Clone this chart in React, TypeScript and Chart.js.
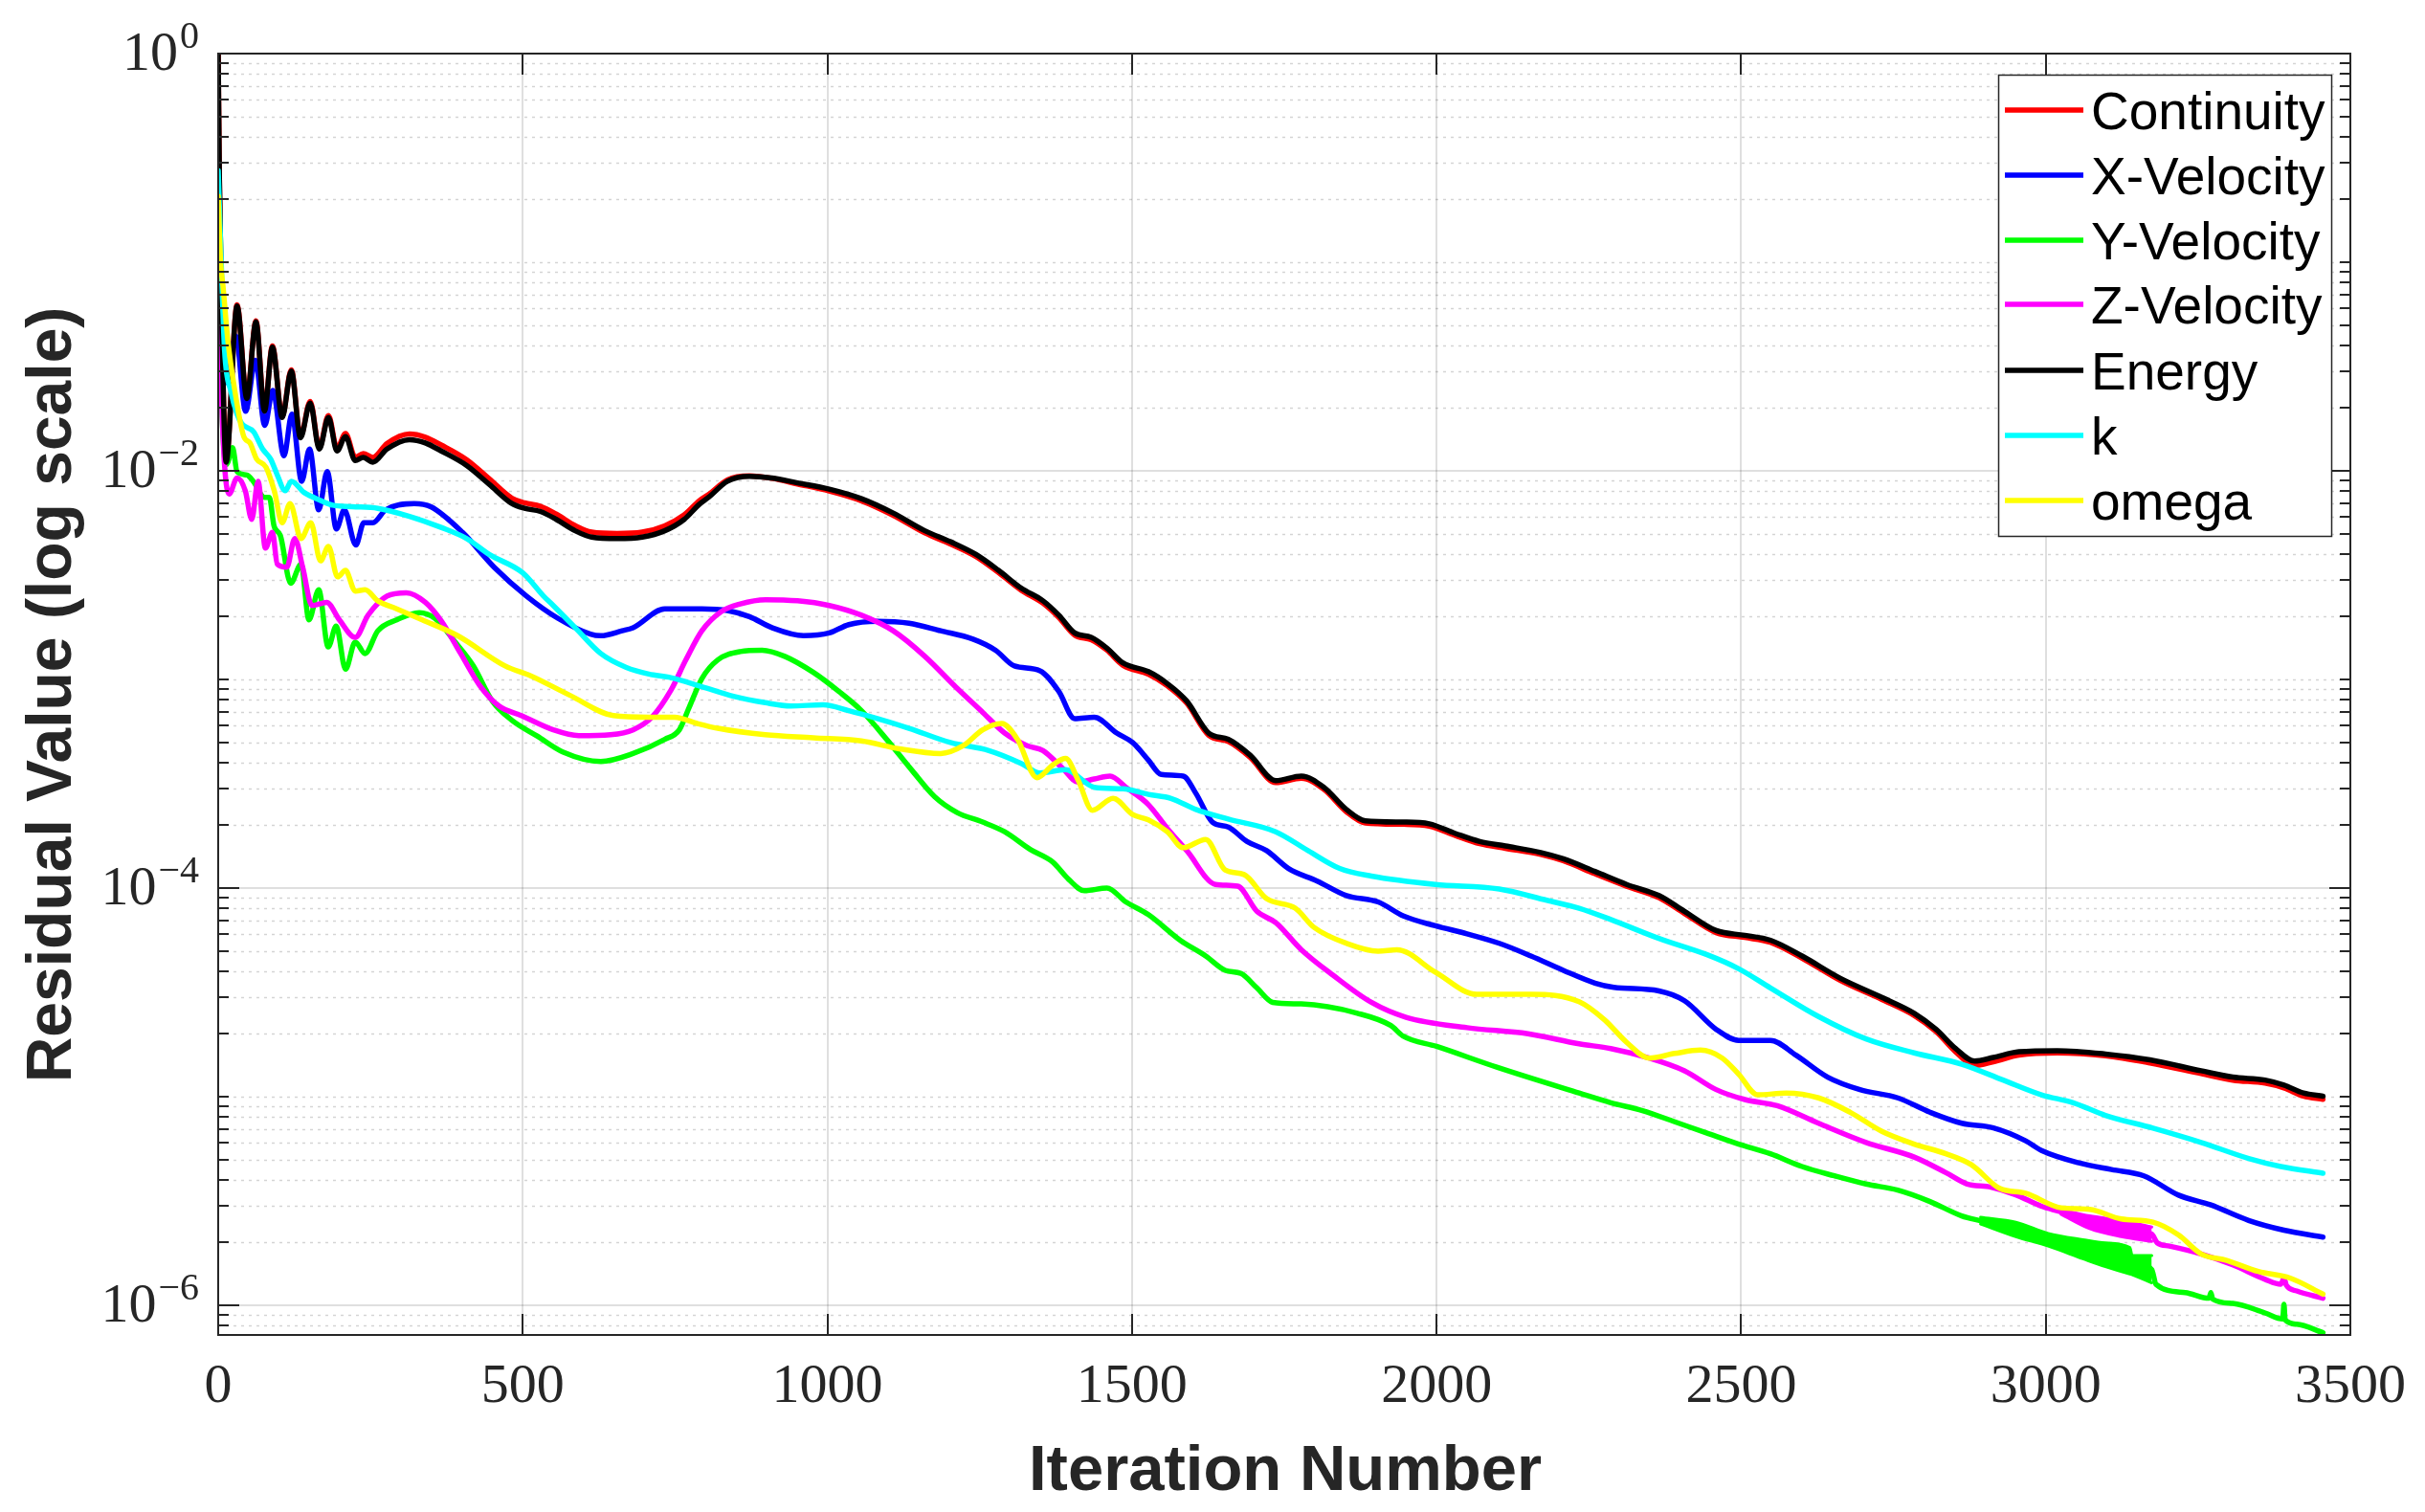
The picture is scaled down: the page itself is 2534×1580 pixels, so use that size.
import React, { useEffect, useRef } from 'react';
import { Chart, registerables } from 'chart.js';

Chart.register(...registerables);

type Pt = [number, number];

const W = 2534;
const H = 1580;

const xTicks = [0, 500, 1000, 1500, 2000, 2500, 3000, 3500];
const yMajorExp = [0, -2, -4, -6];
const yMin = 7.2e-7;
const yMax = 1;

const seriesNames = ['Continuity', 'X-Velocity', 'Y-Velocity', 'Z-Velocity', 'Energy', 'k', 'omega'];
const seriesColors = ['#FF0000', '#0000FF', '#00FF00', '#FF00FF', '#000000', '#00FFFF', '#FFFF00'];

const continuity: Pt[] = [
  [0, 1], [2, 0.25], [6, 0.05], [13, 0.0112], [31, 0.0625], [47, 0.0224], [62, 0.0524], [76, 0.0195], [89, 0.0397],
  [105, 0.0182], [120, 0.0305], [135, 0.0146], [151, 0.0215], [166, 0.0129], [181, 0.0184], [195, 0.0128], [209, 0.0151],
  [225, 0.0116], [238, 0.0121], [254, 0.0116], [277, 0.0135], [314, 0.0150], [340, 0.0145], [366, 0.0133], [408, 0.0113],
  [445, 0.00915], [482, 0.0074], [503, 0.00702], [529, 0.00676], [555, 0.0062], [586, 0.00546], [613, 0.00508],
  [655, 0.005], [696, 0.00508], [733, 0.00545], [765, 0.00615], [790, 0.0072], [805, 0.0077], [836, 0.00905],
  [872, 0.00945], [909, 0.0092], [951, 0.00865], [1003, 0.008], [1056, 0.00718], [1108, 0.00612], [1160, 0.00504],
  [1202, 0.00446], [1244, 0.00388], [1281, 0.00325], [1318, 0.00268], [1354, 0.00232], [1380, 0.00198], [1406, 0.00163],
  [1433, 0.00155], [1459, 0.00138], [1485, 0.00117], [1527, 0.00106], [1558, 0.000933], [1590, 0.000769],
  [1626, 0.00054], [1658, 0.000504], [1694, 0.000423], [1736, 0.00032], [1778, 0.000336], [1815, 0.000297],
  [1852, 0.000232], [1883, 0.000205], [1946, 0.000202], [1988, 0.000198], [2030, 0.000179], [2071, 0.000163],
  [2113, 0.000155], [2171, 0.000145], [2208, 0.000135], [2260, 0.000117], [2312, 0.000102], [2365, 8.99e-5],
  [2407, 7.55e-5], [2459, 6.11e-5], [2506, 5.79e-5], [2548, 5.49e-5], [2600, 4.61e-5], [2663, 3.6e-5], [2731, 2.92e-5],
  [2784, 2.45e-5], [2820, 2.05e-5], [2852, 1.64e-5], [2883, 1.41e-5], [2914, 1.47e-5], [2956, 1.58e-5], [3019, 1.62e-5],
  [3098, 1.57e-5], [3171, 1.45e-5], [3255, 1.29e-5], [3307, 1.2e-5], [3360, 1.16e-5], [3391, 1.1e-5], [3423, 1.005e-5],
  [3455, 9.7e-6],
];

const xVelocity: Pt[] = [
  [0, 0.2], [6, 0.06], [14, 0.0265], [29, 0.0442], [45, 0.0193], [61, 0.0339], [76.5, 0.0165], [89.5, 0.0243],
  [108, 0.0118], [121, 0.0187], [137, 0.00891], [150, 0.0127], [165, 0.0065], [179, 0.00991], [194, 0.00526],
  [207, 0.0065], [226, 0.00441], [239, 0.00564], [254, 0.00564], [275, 0.0065], [322, 0.00697], [349, 0.00673],
  [401, 0.00507], [453, 0.00345], [506, 0.00251], [558, 0.00196], [611, 0.00165], [628, 0.00162], [663, 0.00171],
  [681, 0.00177], [733, 0.00218], [794, 0.00218], [836, 0.00214], [872, 0.002], [909, 0.00177], [961, 0.00162],
  [1003, 0.00167], [1035, 0.00183], [1082, 0.0019], [1134, 0.00186], [1186, 0.00171], [1239, 0.00156], [1276, 0.00138],
  [1307, 0.00116], [1349, 0.0011], [1380, 0.000875], [1406, 0.000649], [1438, 0.000659], [1475, 0.000553],
  [1501, 0.000498], [1527, 0.00041], [1548, 0.00035], [1584, 0.000344], [1605, 0.000284], [1632, 0.000207],
  [1658, 0.000196], [1689, 0.000167], [1721, 0.000151], [1757, 0.000124], [1804, 0.000108], [1852, 9.2e-5],
  [1904, 8.57e-5], [1946, 7.33e-5], [1998, 6.59e-5], [2050, 6.03e-5], [2103, 5.43e-5], [2155, 4.72e-5], [2208, 4.03e-5],
  [2260, 3.5e-5], [2291, 3.34e-5], [2365, 3.21e-5], [2407, 2.88e-5], [2459, 2.1e-5], [2496, 1.86e-5], [2548, 1.86e-5],
  [2590, 1.58e-5], [2642, 1.24e-5], [2695, 1.08e-5], [2757, 9.86e-6], [2810, 8.41e-6], [2862, 7.45e-6], [2914, 7.08e-6],
  [2967, 6.14e-6], [2993, 5.52e-6], [3056, 4.8e-6], [3108, 4.47e-6], [3161, 4.17e-6], [3218, 3.37e-6], [3270, 3.03e-6],
  [3333, 2.55e-6], [3391, 2.29e-6], [3455, 2.12e-6],
];

const yVelocity: Pt[] = [
  [0, 0.1], [6, 0.02], [13, 0.0107], [16, 0.011], [23.6, 0.0129], [31, 0.00991], [47, 0.00955], [57.6, 0.00891],
  [76, 0.00746], [84, 0.00746], [91.6, 0.00545], [102, 0.0049], [119, 0.00289], [136, 0.00357], [149, 0.00193],
  [165, 0.00269], [180.6, 0.00143], [193.7, 0.0018], [209, 0.00112], [225, 0.00151], [241, 0.00133], [262, 0.00171],
  [293, 0.00193], [330, 0.00209], [356, 0.00196], [387.5, 0.00153], [419, 0.00116], [450, 0.000787], [482, 0.000637],
  [523.6, 0.000535], [565.5, 0.000449], [628, 0.000404], [681, 0.000441], [733, 0.000516], [757, 0.000573],
  [773, 0.000733], [794, 0.00101], [820, 0.00124], [857, 0.00136], [893, 0.00138], [930, 0.00129], [977, 0.00108],
  [1019, 0.000875], [1056, 0.000708], [1098, 0.000513], [1140, 0.000363], [1176, 0.000274], [1213, 0.00023],
  [1255, 0.000207], [1291, 0.000186], [1333, 0.000153], [1370, 0.000133], [1396, 0.00011], [1422, 9.7e-5],
  [1459, 0.0001], [1490, 8.57e-5], [1527, 7.45e-5], [1579, 5.62e-5], [1621, 4.72e-5], [1653, 4.03e-5], [1679, 3.89e-5],
  [1705, 3.32e-5], [1731, 2.83e-5], [1778, 2.78e-5], [1870, 2.51e-5], [1925, 2.19e-5], [1945, 1.95e-5], [2000, 1.74e-5],
  [2100, 1.38e-5], [2234, 1.04e-5], [2286, 9.35e-6], [2338, 8.57e-6], [2391, 7.57e-6], [2443, 6.7e-6], [2496, 5.92e-6],
  [2548, 5.32e-6], [2600, 4.62e-6], [2653, 4.17e-6], [2705, 3.81e-6], [2757, 3.56e-6], [2810, 3.14e-6], [2862, 2.68e-6],
  [2893, 2.54e-6], [2951, 2.32e-6], [3004, 2.06e-6], [3061, 1.86e-6], [3098, 1.75e-6], [3140, 1.62e-6], [3174, 1.48e-6],
  [3181, 1.26e-6], [3229, 1.15e-6], [3268, 1.08e-6], [3271, 1.15e-6], [3274, 1.07e-6], [3307, 1.02e-6], [3360, 9.18e-7],
  [3389, 8.59e-7], [3391, 1.01e-6], [3393, 8.51e-7], [3412, 8.11e-7], [3455, 7.38e-7],
];

const yBandIter = [2893, 2951, 3004, 3061, 3098, 3138, 3142, 3174];
const yBandUpper = [2.64e-6, 2.5e-6, 2.21e-6, 2.06e-6, 1.99e-6, 1.89e-6, 1.73e-6, 1.73e-6];
const yBandLower = [2.45e-6, 2.13e-6, 1.92e-6, 1.67e-6, 1.53e-6, 1.41e-6, 1.4e-6, 1.28e-6];

const zVelocity: Pt[] = [
  [0, 0.1], [5, 0.025], [10.5, 0.0106], [18, 0.00774], [31, 0.00923], [44.5, 0.00802], [55, 0.00585], [65.5, 0.00891],
  [77.5, 0.00426], [89, 0.00507], [97, 0.00357], [112.6, 0.00345], [125.7, 0.00473], [138.7, 0.00345], [154, 0.00226],
  [178, 0.00234], [199, 0.00193], [225, 0.00159], [246, 0.00203], [277.5, 0.00251], [309, 0.0026], [340, 0.00234],
  [366.5, 0.0019], [398, 0.00133], [429, 0.000938], [461, 0.000746], [497.5, 0.000671], [550, 0.000573],
  [592, 0.000537], [644, 0.000543], [681, 0.000573], [712, 0.000659], [743.5, 0.000891], [767.7, 0.00124],
  [794, 0.00171], [825.5, 0.00211], [857, 0.0023], [898.5, 0.00241], [951, 0.00238], [1003, 0.00226], [1056, 0.00203],
  [1108, 0.00171], [1160, 0.00129], [1213, 0.000906], [1255, 0.000695], [1291, 0.000553], [1328, 0.000481],
  [1354, 0.000456], [1385.5, 0.000376], [1412, 0.000321], [1438, 0.000333], [1464, 0.000344], [1490, 0.000304],
  [1527, 0.000251], [1558, 0.000193], [1590, 0.000151], [1637, 0.000104], [1673.5, 0.000102], [1705, 7.73e-5],
  [1736, 6.82e-5], [1778, 5.06e-5], [1830, 3.82e-5], [1893, 2.83e-5], [1950, 2.4e-5], [2050, 2.14e-5], [2150, 2.0e-5],
  [2234, 1.79e-5], [2286, 1.7e-5], [2349, 1.53e-5], [2407, 1.33e-5], [2459, 1.08e-5], [2506, 9.68e-6], [2559, 9.04e-6],
  [2627, 7.45e-6], [2705, 6.03e-6], [2784, 5.13e-6], [2836, 4.32e-6], [2870, 3.82e-6], [2910, 3.68e-6], [2950, 3.39e-6],
  [2993, 2.98e-6], [3025, 2.8e-6], [3072, 2.51e-6], [3124, 2.34e-6], [3174, 2.19e-6], [3183, 1.99e-6], [3203, 1.92e-6],
  [3255, 1.76e-6], [3307, 1.56e-6], [3360, 1.33e-6], [3386, 1.26e-6], [3391, 1.35e-6], [3395, 1.245e-6],
  [3412, 1.17e-6], [3455, 1.08e-6],
];

const zBandIter = [3025, 3072, 3124, 3174];
const zBandUpper = [2.88e-6, 2.68e-6, 2.55e-6, 2.37e-6];
const zBandLower = [2.73e-6, 2.33e-6, 2.13e-6, 2.02e-6];

const energy: Pt[] = [
  [0, 1], [2, 0.25], [6, 0.05], [13, 0.011], [31, 0.0617], [47, 0.0222], [62, 0.0518], [76, 0.0193], [89, 0.0392],
  [105, 0.018], [120, 0.0301], [135, 0.0144], [151, 0.0211], [166, 0.0127], [181, 0.018], [195, 0.01245], [209, 0.0146],
  [225, 0.0112], [238, 0.0116], [254, 0.011], [277, 0.0127], [314, 0.0141], [340, 0.0136], [366, 0.01245], [408, 0.0106],
  [445, 0.00861], [482, 0.00697], [503, 0.00661], [529, 0.00638], [555, 0.00585], [586, 0.00516], [613, 0.00481],
  [655, 0.00473], [696, 0.00481], [733, 0.00516], [765, 0.00585], [790, 0.00692], [805, 0.00746], [836, 0.00891],
  [872, 0.0094], [909, 0.00923], [951, 0.00875], [1003, 0.00817], [1056, 0.00735], [1108, 0.00627], [1160, 0.00516],
  [1202, 0.00457], [1244, 0.00397], [1281, 0.00333], [1318, 0.00274], [1354, 0.00238], [1380, 0.00203], [1406, 0.00167],
  [1433, 0.00159], [1459, 0.00141], [1485, 0.0012], [1527, 0.00109], [1558, 0.000955], [1590, 0.000787],
  [1626, 0.000553], [1658, 0.000516], [1694, 0.000433], [1736, 0.000327], [1778, 0.000344], [1815, 0.000304],
  [1852, 0.000238], [1883, 0.00021], [1946, 0.000207], [1988, 0.000203], [2030, 0.000183], [2071, 0.000167],
  [2113, 0.000159], [2171, 0.000148], [2208, 0.000138], [2260, 0.00012], [2312, 0.000104], [2365, 9.2e-5],
  [2407, 7.73e-5], [2459, 6.25e-5], [2506, 5.93e-5], [2548, 5.62e-5], [2600, 4.72e-5], [2663, 3.69e-5], [2731, 2.99e-5],
  [2784, 2.51e-5], [2820, 2.1e-5], [2852, 1.7e-5], [2883, 1.48e-5], [2914, 1.54e-5], [2956, 1.64e-5], [3019, 1.66e-5],
  [3098, 1.6e-5], [3171, 1.5e-5], [3255, 1.33e-5], [3307, 1.24e-5], [3360, 1.2e-5], [3391, 1.135e-5], [3423, 1.04e-5],
  [3455, 1.005e-5],
];

const kTurb: Pt[] = [
  [0, 0.275], [3, 0.15], [10.5, 0.0377], [21, 0.0239], [31, 0.0187], [39, 0.0168], [58, 0.0154], [73, 0.0127],
  [86, 0.0114], [97, 0.00955], [110, 0.00802], [120, 0.00891], [141, 0.00787], [168, 0.00721], [188, 0.00684],
  [220, 0.00673], [262, 0.00661], [314, 0.00605], [366, 0.00535], [408, 0.00473], [445, 0.00397], [500, 0.00324],
  [534, 0.00251], [550, 0.00226], [586, 0.00177], [628, 0.00133], [670, 0.00114], [707, 0.00106], [743, 0.00102],
  [794, 0.000923], [846, 0.00083], [898, 0.000773], [940, 0.000746], [993, 0.000755], [1035, 0.000708],
  [1082, 0.000649], [1134, 0.000583], [1202, 0.000498], [1265, 0.000456], [1318, 0.000396], [1349, 0.000356],
  [1391, 0.000369], [1438, 0.000304], [1485, 0.000299], [1527, 0.000281], [1564, 0.000269], [1605, 0.000238],
  [1658, 0.000214], [1736, 0.000186], [1789, 0.000151], [1841, 0.000124], [1893, 0.000114], [1998, 0.000104],
  [2103, 9.89e-5], [2181, 8.73e-5], [2234, 8.0e-5], [2286, 7.06e-5], [2365, 5.73e-5], [2443, 4.8e-5], [2496, 4.1e-5],
  [2548, 3.32e-5], [2627, 2.42e-5], [2705, 1.89e-5], [2784, 1.62e-5], [2862, 1.43e-5], [2930, 1.2e-5], [2993, 1.02e-5],
  [3045, 9.35e-6], [3098, 8.13e-6], [3176, 7.06e-6], [3255, 6.03e-6], [3333, 5.05e-6], [3386, 4.62e-6], [3455, 4.29e-6],
];

const omega: Pt[] = [
  [0, 0.207], [4, 0.1], [8, 0.0762], [16, 0.0419], [26, 0.0256], [42, 0.0146], [52, 0.0136], [63, 0.0114],
  [78.5, 0.0104], [92, 0.00802], [105, 0.00564], [118, 0.00697], [136, 0.00473], [152, 0.00564], [168, 0.0037],
  [181, 0.00434], [196, 0.0031], [209, 0.00333], [225, 0.00265], [241, 0.00269], [262, 0.00238], [293, 0.00218],
  [335, 0.00193], [393, 0.00162], [471, 0.00116], [513, 0.00104], [576, 0.000843], [649, 0.000671], [707, 0.000659],
  [749, 0.000659], [786, 0.000615], [820, 0.000583], [898, 0.000543], [977, 0.000525], [1056, 0.000507],
  [1118, 0.000465], [1186, 0.000441], [1223, 0.000481], [1255, 0.000573], [1286, 0.000615], [1312, 0.000516],
  [1344, 0.000338], [1370, 0.000389], [1391, 0.000418], [1412, 0.000327], [1435, 0.000236], [1469, 0.000269],
  [1501, 0.000225], [1527, 0.000212], [1558, 0.000186], [1584, 0.000156], [1621, 0.000171], [1653, 0.000122],
  [1684, 0.000116], [1721, 8.89e-5], [1768, 8.0e-5], [1799, 6.47e-5], [1852, 5.43e-5], [1904, 4.98e-5],
  [1935, 5.06e-5], [1998, 3.95e-5], [2066, 3.09e-5], [2155, 3.09e-5], [2234, 2.85e-5], [2276, 2.33e-5],
  [2312, 1.82e-5], [2349, 1.53e-5], [2391, 1.61e-5], [2433, 1.67e-5], [2469, 1.53e-5], [2496, 1.28e-5],
  [2527, 1.02e-5], [2574, 1.04e-5], [2627, 9.86e-6], [2679, 8.41e-6], [2731, 6.81e-6], [2784, 5.92e-6],
  [2836, 5.32e-6], [2878, 4.71e-6], [2925, 3.62e-6], [2967, 3.44e-6], [3025, 2.93e-6], [3072, 2.88e-6],
  [3124, 2.59e-6], [3176, 2.5e-6], [3218, 2.17e-6], [3255, 1.76e-6], [3297, 1.64e-6], [3349, 1.45e-6],
  [3401, 1.35e-6], [3455, 1.13e-6],
];

const seriesData: Pt[][] = [continuity, xVelocity, yVelocity, zVelocity, energy, kTurb, omega];

const toXY = (a: Pt[]) => a.map(([x, y]) => ({ x, y }));
const bandXY = (xs: number[], ys: number[]) => xs.map((x, i) => ({ x, y: ys[i] }));

const TICK_FONT = "'Liberation Serif', 'DejaVu Serif', serif";
const SANS = "'Liberation Sans', Arial, Helvetica, sans-serif";
const AXIS_COLOR = '#262626';
const LINE_W = 5.5;

function yTickValues(): { v: number; major: boolean }[] {
  const out: { v: number; major: boolean }[] = [];
  for (let e = -7; e <= 0; e++) {
    for (let m = 1; m <= 9; m++) {
      const v = m * Math.pow(10, e);
      if (v < yMin * 0.999 || v > yMax * 1.001) continue;
      out.push({ v, major: m === 1 && yMajorExp.includes(e) });
    }
  }
  return out;
}

const matlabAxes = {
  id: 'matlabAxes',
  beforeDatasetsDraw(chart: any) {
    const { ctx, chartArea: a, scales } = chart;
    const xs = scales.x;
    const ys = scales.y;
    const ticks = yTickValues();
    ctx.save();
    ctx.strokeStyle = 'rgba(38,38,38,0.2)';
    ctx.lineWidth = 1.5;
    ctx.setLineDash([3, 5]);
    for (const t of ticks) {
      if (t.major) continue;
      const py = Math.round(ys.getPixelForValue(t.v)) + 0.5;
      ctx.beginPath();
      ctx.moveTo(a.left, py);
      ctx.lineTo(a.right, py);
      ctx.stroke();
    }
    ctx.setLineDash([]);
    ctx.strokeStyle = 'rgba(38,38,38,0.15)';
    ctx.lineWidth = 2;
    for (const t of ticks) {
      if (!t.major) continue;
      const py = Math.round(ys.getPixelForValue(t.v));
      ctx.beginPath();
      ctx.moveTo(a.left, py);
      ctx.lineTo(a.right, py);
      ctx.stroke();
    }
    for (const xv of xTicks) {
      const px = Math.round(xs.getPixelForValue(xv));
      ctx.beginPath();
      ctx.moveTo(px, a.top);
      ctx.lineTo(px, a.bottom);
      ctx.stroke();
    }
    ctx.restore();
  },
  afterDatasetsDraw(chart: any) {
    const { ctx, chartArea: a, scales } = chart;
    const xs = scales.x;
    const ys = scales.y;
    ctx.save();
    ctx.strokeStyle = AXIS_COLOR;
    ctx.lineWidth = 2;
    ctx.strokeRect(a.left, a.top, a.right - a.left, a.bottom - a.top);
    for (const t of yTickValues()) {
      const py = Math.round(ys.getPixelForValue(t.v));
      const len = t.major ? 22 : 11;
      ctx.beginPath();
      ctx.moveTo(a.left, py);
      ctx.lineTo(a.left + len, py);
      ctx.moveTo(a.right, py);
      ctx.lineTo(a.right - len, py);
      ctx.stroke();
    }
    for (const xv of xTicks) {
      const px = Math.round(xs.getPixelForValue(xv));
      ctx.beginPath();
      ctx.moveTo(px, a.bottom);
      ctx.lineTo(px, a.bottom - 22);
      ctx.moveTo(px, a.top);
      ctx.lineTo(px, a.top + 22);
      ctx.stroke();
    }
    ctx.fillStyle = AXIS_COLOR;
    ctx.font = `58px ${TICK_FONT}`;
    ctx.textAlign = 'center';
    ctx.textBaseline = 'alphabetic';
    for (const xv of xTicks) {
      const px = xs.getPixelForValue(xv);
      ctx.fillText(String(xv), px, a.bottom + 70);
    }
    const rightEdge = a.left - 20;
    for (const e of yMajorExp) {
      const py = ys.getPixelForValue(Math.pow(10, e));
      const sup = e === 0 ? '0' : '\u2212' + String(Math.abs(e));
      ctx.font = `40px ${TICK_FONT}`;
      ctx.textAlign = 'right';
      const supW = ctx.measureText(sup).width;
      ctx.fillText(sup, rightEdge, py - 6);
      ctx.font = `58px ${TICK_FONT}`;
      ctx.fillText('10', rightEdge - supW - 2, py + 17);
    }
    ctx.font = `bold 67px ${SANS}`;
    ctx.textAlign = 'center';
    ctx.textBaseline = 'alphabetic';
    ctx.fillText('Iteration Number', (a.left + a.right) / 2 + 1, 1557);
    ctx.save();
    ctx.translate(74, 726);
    ctx.rotate(-Math.PI / 2);
    ctx.font = `bold 66px ${SANS}`;
    ctx.fillText('Residual Value (log scale)', 0, 0);
    ctx.restore();

    const lx = 2088;
    const ly = 78;
    const lw = 348;
    const lh = 482;
    ctx.fillStyle = '#FFFFFF';
    ctx.fillRect(lx, ly, lw, lh);
    ctx.strokeStyle = AXIS_COLOR;
    ctx.lineWidth = 1.5;
    ctx.strokeRect(lx + 0.5, ly + 0.5, lw, lh);
    const rowY = [115, 183, 251, 318, 387, 455, 523];
    ctx.font = `55px ${SANS}`;
    ctx.textAlign = 'left';
    ctx.textBaseline = 'alphabetic';
    for (let i = 0; i < seriesNames.length; i++) {
      const y = rowY[i];
      ctx.strokeStyle = seriesColors[i];
      ctx.lineWidth = LINE_W;
      ctx.beginPath();
      ctx.moveTo(lx + 7, y);
      ctx.lineTo(lx + 89, y);
      ctx.stroke();
      ctx.fillStyle = '#000000';
      ctx.fillText(seriesNames[i], lx + 97, y + 20);
    }
    ctx.restore();
  },
};

export default function App() {
  const canvasRef = useRef<HTMLCanvasElement | null>(null);

  useEffect(() => {
    const canvas = canvasRef.current;
    if (!canvas) return;
    const drawOrder = [7, 6, 5, 4, 3, 2, 1];
    const base = {
      pointRadius: 0,
      cubicInterpolationMode: 'monotone',
      borderJoinStyle: 'round',
      borderCapStyle: 'round',
    };
    const datasets: any[] = seriesData.map((d, i) => ({
      ...base,
      label: seriesNames[i],
      data: toXY(d),
      borderColor: seriesColors[i],
      backgroundColor: seriesColors[i],
      borderWidth: LINE_W,
      fill: false,
      order: drawOrder[i],
    }));
    datasets.push({
      ...base,
      label: 'Y band upper',
      data: bandXY(yBandIter, yBandUpper),
      borderColor: seriesColors[2],
      borderWidth: 3,
      fill: false,
      order: drawOrder[2],
    });
    datasets.push({
      ...base,
      label: 'Y band lower',
      data: bandXY(yBandIter, yBandLower),
      borderColor: seriesColors[2],
      backgroundColor: seriesColors[2],
      borderWidth: 3,
      fill: '-1',
      order: drawOrder[2],
    });
    datasets.push({
      ...base,
      label: 'Z band upper',
      data: bandXY(zBandIter, zBandUpper),
      borderColor: seriesColors[3],
      borderWidth: 3,
      fill: false,
      order: drawOrder[3],
    });
    datasets.push({
      ...base,
      label: 'Z band lower',
      data: bandXY(zBandIter, zBandLower),
      borderColor: seriesColors[3],
      backgroundColor: seriesColors[3],
      borderWidth: 3,
      fill: '-1',
      order: drawOrder[3],
    });

    const chart = new Chart(canvas, {
      type: 'line',
      data: { datasets },
      options: {
        animation: false,
        responsive: false,
        maintainAspectRatio: false,
        layout: { padding: { left: 228, top: 56, right: W - 2456, bottom: H - 1395 } },
        plugins: {
          legend: { display: false },
          tooltip: { enabled: false },
          title: { display: false },
        },
        scales: {
          x: {
            type: 'linear',
            min: 0,
            max: 3500,
            grid: { display: false },
            border: { display: false },
            ticks: { display: false },
            afterFit: (s: any) => {
              s.height = 0;
            },
          },
          y: {
            type: 'logarithmic',
            min: yMin,
            max: yMax,
            grid: { display: false },
            border: { display: false },
            ticks: { display: false },
            afterFit: (s: any) => {
              s.width = 0;
            },
          },
        },
      } as any,
      plugins: [matlabAxes as any],
    });
    return () => chart.destroy();
  }, []);

  return (
    <div style={{ position: 'absolute', left: 0, top: 0, width: W, height: H, background: '#FFFFFF' }}>
      <canvas ref={canvasRef} width={W} height={H} style={{ width: W, height: H, display: 'block' }} />
    </div>
  );
}
